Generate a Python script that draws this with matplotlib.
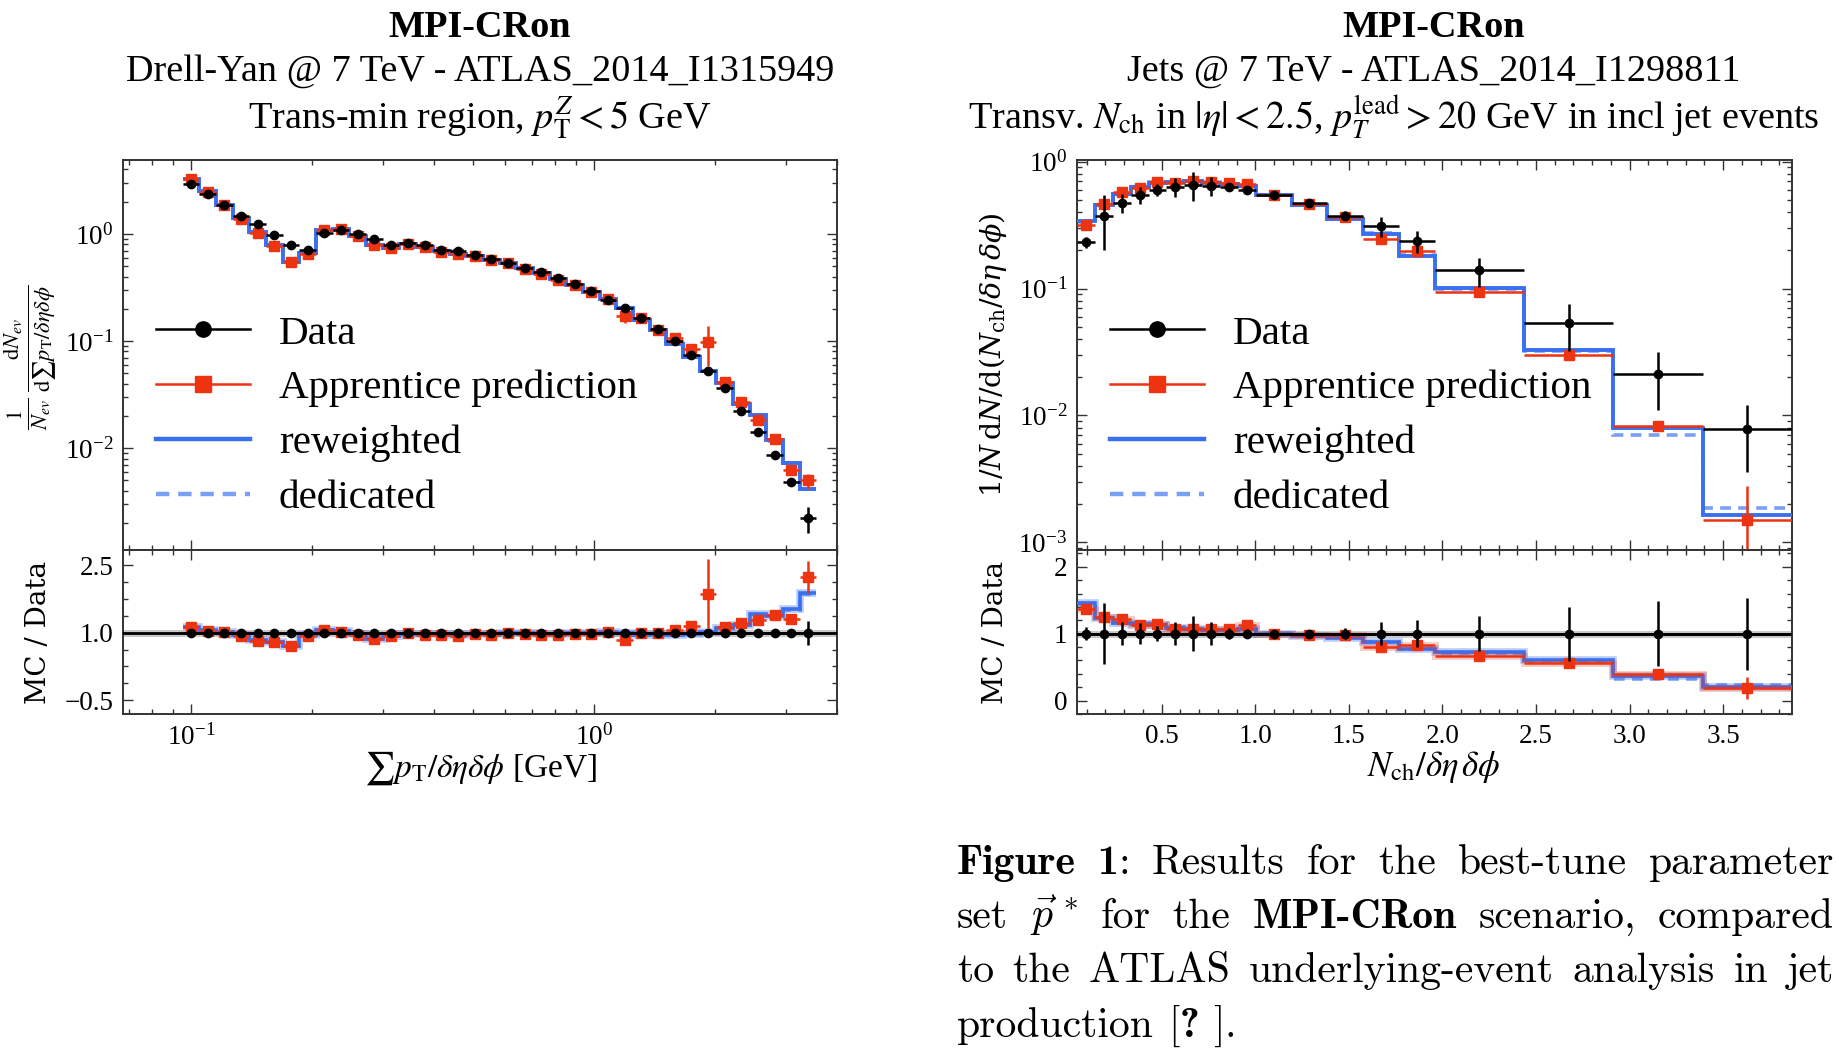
import numpy as np
import matplotlib
matplotlib.use("Agg")
import matplotlib.pyplot as plt
from matplotlib.ticker import (LogLocator, MultipleLocator, NullFormatter,
                               FixedLocator, FuncFormatter)
from matplotlib.lines import Line2D

W, H = 1836, 1049
plt.rcParams['font.family'] = ['Liberation Serif', 'DejaVu Serif']
plt.rcParams['mathtext.fontset'] = 'stix'
plt.rcParams['axes.unicode_minus'] = True

# ---------------- Drell-Yan (left) ----------------
dy_edges = [0.09535, 0.10488, 0.11537, 0.12691, 0.13960, 0.15356, 0.16891, 0.18580,
            0.20438, 0.22482, 0.24730, 0.27203, 0.29924, 0.32916, 0.36208, 0.39829,
            0.43811, 0.48193, 0.53012, 0.58313, 0.64144, 0.70559, 0.77615, 0.85376,
            0.93914, 1.03305, 1.13636, 1.24999, 1.37499, 1.51249, 1.66374, 1.83011,
            2.01312, 2.21444, 2.43588, 2.67947, 2.94742, 3.24216, 3.56637]
dy_data = [2.90, 2.38, 1.85, 1.47, 1.25, 0.973, 0.784, 0.705, 1.01, 1.08,
           1.00, 0.906, 0.796, 0.824, 0.784, 0.715, 0.694, 0.641, 0.589, 0.536,
           0.485, 0.441, 0.391, 0.339, 0.293, 0.244, 0.205, 0.165, 0.130, 0.100,
           0.0734, 0.0525, 0.0364, 0.0222, 0.0143, 0.00867, 0.00481, 0.00223]
dy_data_err = [0.03, 0.025, 0.02, 0.015, 0.012, 0.01, 0.008, 0.007, 0.01, 0.01,
               0.01, 0.009, 0.008, 0.008, 0.008, 0.007, 0.007, 0.006, 0.006, 0.005,
               0.005, 0.004, 0.004, 0.003, 0.003, 0.003, 0.002, 0.002, 0.0015, 0.0012,
               0.0009, 0.0007, 0.0005, 0.0003, 0.0002, 0.00015, 0.0003, 0.0006]
dy_mc = [3.24, 2.47, 1.88, 1.37, 1.03, 0.773, 0.548, 0.65, 1.08, 1.106,
         0.95, 0.784, 0.74, 0.81, 0.751, 0.68, 0.65, 0.619, 0.565, 0.535,
         0.475, 0.423, 0.375, 0.332, 0.287, 0.249, 0.172, 0.165, 0.128, 0.107,
         0.0844, 0.098, 0.0414, 0.0269, 0.0182, 0.0121, 0.00632, 0.00499]
dy_mc_err = [0.04, 0.03, 0.02, 0.015, 0.012, 0.01, 0.008, 0.008, 0.012, 0.012,
             0.01, 0.009, 0.008, 0.009, 0.008, 0.007, 0.007, 0.006, 0.006, 0.005,
             0.005, 0.004, 0.004, 0.003, 0.003, 0.003, 0.025, 0.002, 0.002, 0.002,
             0.0015, 0.04, 0.0008, 0.0005, 0.0004, 0.0003, 0.0002, 0.0008]
dy_rew = [3.28, 2.50, 1.88, 1.40, 1.05, 0.78, 0.55, 0.67, 1.08, 1.11,
          0.96, 0.78, 0.745, 0.80, 0.76, 0.69, 0.655, 0.62, 0.57, 0.535,
          0.48, 0.43, 0.38, 0.335, 0.29, 0.248, 0.203, 0.158, 0.126, 0.0945,
          0.0709, 0.0529, 0.0405, 0.026, 0.0202, 0.0118, 0.00731, 0.00418]
dy_ded = [3.27, 2.49, 1.88, 1.40, 1.05, 0.78, 0.55, 0.67, 1.08, 1.11,
          0.96, 0.78, 0.745, 0.80, 0.76, 0.69, 0.655, 0.62, 0.57, 0.535,
          0.48, 0.43, 0.38, 0.335, 0.29, 0.248, 0.203, 0.158, 0.126, 0.0945,
          0.0709, 0.0529, 0.0405, 0.026, 0.0200, 0.0117, 0.00725, 0.00415]

# ---------------- Jets (right) ----------------
jt_edges = [0.047746, 0.143239, 0.238732, 0.334225, 0.429718, 0.525211, 0.620704,
            0.716197, 0.811690, 0.907183, 1.002676, 1.193662, 1.384648, 1.575634,
            1.766620, 1.957606, 2.435070, 2.912535, 3.389999, 3.867463]
jt_data = [0.232, 0.371, 0.473, 0.547, 0.600, 0.632, 0.656, 0.648, 0.632, 0.595,
           0.547, 0.471, 0.376, 0.310, 0.237, 0.139, 0.0536, 0.0212, 0.00781]
jt_data_err = [0.023, 0.17, 0.08, 0.085, 0.066, 0.11, 0.17, 0.11, 0.05, 0.04,
               0.016, 0.014, 0.032, 0.053, 0.048, 0.036, 0.0216, 0.0102, 0.0042]
jt_mc = [0.318, 0.465, 0.574, 0.621, 0.689, 0.675, 0.699, 0.689, 0.675, 0.668,
         0.547, 0.465, 0.368, 0.246, 0.197, 0.0935, 0.0302, 0.00831, 0.00150]
jt_mc_err = [0.008, 0.01, 0.01, 0.01, 0.01, 0.01, 0.01, 0.01, 0.01, 0.01,
             0.008, 0.006, 0.005, 0.004, 0.003, 0.0015, 0.0006, 0.0003, 0.0013]
jt_rew = [0.340, 0.459, 0.551, 0.629, 0.681, 0.689, 0.700, 0.680, 0.668, 0.637,
          0.547, 0.456, 0.354, 0.270, 0.182, 0.1005, 0.0325, 0.0079, 0.00164]
jt_ded = [0.335, 0.457, 0.551, 0.633, 0.685, 0.695, 0.705, 0.685, 0.670, 0.640,
          0.550, 0.458, 0.356, 0.272, 0.184, 0.0985, 0.0320, 0.0070, 0.00185]

labels = ['Data', 'Apprentice prediction', 'reweighted', 'dedicated']

RED = '#ee3311'
BLUE = '#3a6ff0'
LBLUE = '#7aa0f5'
FRAME = '#333333'

fig = plt.figure(figsize=(W / 100, H / 100), dpi=100)


def fx(px):
    return px / W


def fy(py):
    return 1 - py / H


def add_axes(x0, x1, y0, y1, **kw):
    return fig.add_axes([fx(x0), fy(y1), (x1 - x0) / W, (y1 - y0) / H], **kw)


def style(ax):
    ax.tick_params(which='both', direction='in', top=True, right=True,
                   width=1.0, color=FRAME, labelsize=19.5, pad=7)
    ax.tick_params(which='major', length=7.5)
    ax.tick_params(which='minor', length=3.8)
    for s in ax.spines.values():
        s.set_linewidth(1.4)
        s.set_color(FRAME)


def draw_panel(ax, axr, edges, data, derr, mc, merr, rew, ded, logx):
    e = np.array(edges)
    d = np.array(data)
    de = np.array(derr)
    m = np.array(mc)
    me = np.array(merr)
    rw = np.array(rew)
    dd = np.array(ded)
    if logx:
        xc = np.sqrt(e[:-1] * e[1:])
    else:
        xc = 0.5 * (e[:-1] + e[1:])
    xerr = [xc - e[:-1], e[1:] - xc]
    # main
    ax.stairs(dd, e, color=LBLUE, lw=2.6, ls=(0, (3, 2)), zorder=2, baseline=None)
    ax.stairs(rw, e, color=BLUE, lw=2.8, zorder=3, baseline=None)
    ax.errorbar(xc, m, yerr=me, xerr=xerr, fmt='s', color=RED, ms=6.5,
                elinewidth=1.8, capsize=0, zorder=4)
    ax.errorbar(xc, d, yerr=de, xerr=xerr, fmt='o', color='black', ms=6,
                elinewidth=1.8, capsize=0, zorder=5)
    # ratio
    axr.axhline(1.0, color='#c8c8c8', lw=5, zorder=1)
    axr.stairs(dd / d, e, color=LBLUE, lw=2.6, ls=(0, (3, 2)), zorder=2, baseline=None)
    axr.stairs(rw / d, e, color=BLUE, lw=5.5, alpha=0.35, zorder=2, baseline=None)
    axr.stairs(rw / d, e, color=BLUE, lw=2.6, zorder=3, baseline=None)
    if not logx:
        axr.stairs(m / d, e, color=RED, lw=5, alpha=0.25, zorder=3, baseline=None)
    axr.errorbar(xc, m / d, yerr=me / d, xerr=xerr, fmt='s', color=RED, ms=6.5,
                 elinewidth=1.8, capsize=0, zorder=4)
    axr.axhline(1.0, color='black', lw=2.0, zorder=5)
    axr.errorbar(xc, np.ones_like(d), yerr=de / d, xerr=xerr, fmt='o',
                 color='black', ms=6, elinewidth=1.8, capsize=0, zorder=6)


# ---------- left ----------
axL = add_axes(123, 837, 160, 550)
axLr = add_axes(123, 837, 550, 714, sharex=axL)
draw_panel(axL, axLr, dy_edges, dy_data, dy_data_err, dy_mc, dy_mc_err,
           dy_rew, dy_ded, True)
for a in (axL, axLr):
    a.set_xscale('log')
    style(a)
axL.set_yscale('log')
axL.set_xlim(0.0678, 4.01)
axL.set_ylim(1.12e-3, 4.9)
axL.yaxis.set_major_locator(LogLocator(base=10, numticks=10))
axL.yaxis.set_minor_locator(LogLocator(base=10, subs=np.arange(2, 10), numticks=20))
axL.yaxis.set_minor_formatter(NullFormatter())
axL.tick_params(labelbottom=False)
axLr.xaxis.set_minor_formatter(NullFormatter())
axLr.set_ylim(-0.81, 2.84)
axLr.yaxis.set_major_locator(FixedLocator([-0.5, 1.0, 2.5]))
axLr.yaxis.set_minor_locator(FixedLocator([-0.125, 0.25, 0.625, 1.375, 1.75, 2.125]))
axLr.yaxis.set_major_formatter(FuncFormatter(lambda v, p: ('%.1f' % v).replace('-', '\u2212')))

# ---------- right ----------
axR = add_axes(1077, 1792, 160, 550)
axRr = add_axes(1077, 1792, 550, 714, sharex=axR)
draw_panel(axR, axRr, jt_edges, jt_data, jt_data_err, jt_mc, jt_mc_err,
           jt_rew, jt_ded, False)
for a in (axR, axRr):
    style(a)
axR.set_yscale('log')
axR.set_xlim(jt_edges[0], jt_edges[-1])
axR.set_ylim(8.7e-4, 1.03)
axR.yaxis.set_major_locator(LogLocator(base=10, numticks=10))
axR.yaxis.set_minor_locator(LogLocator(base=10, subs=np.arange(2, 10), numticks=20))
axR.yaxis.set_minor_formatter(NullFormatter())
axR.tick_params(labelbottom=False)
axRr.xaxis.set_major_locator(MultipleLocator(0.5))
axRr.xaxis.set_minor_locator(MultipleLocator(0.1))
axRr.xaxis.set_major_formatter(FuncFormatter(lambda v, p: '%.1f' % v))
axRr.set_ylim(-0.2, 2.25)
axRr.yaxis.set_major_locator(FixedLocator([0, 1, 2]))
axRr.yaxis.set_minor_locator(MultipleLocator(0.2))
axRr.yaxis.set_major_formatter(FuncFormatter(lambda v, p: '%d' % round(v)))

# ---------- legends ----------
handles = [
    Line2D([0], [0], color='black', lw=1.8, marker='o', ms=11),
    Line2D([0], [0], color=RED, lw=1.8, marker='s', ms=11),
    Line2D([0], [0], color=BLUE, lw=3.2),
    Line2D([0], [0], color=LBLUE, lw=3.2, ls=(0, (3, 2))),
]
for ax, xpx in ((axL, 156), (axR, 1110)):
    ax.legend(handles, labels, loc='center left',
              bbox_to_anchor=(fx(xpx), fy(416)), bbox_transform=fig.transFigure,
              frameon=False, fontsize=29.5, handlelength=2.3, handletextpad=0.7,
              labelspacing=0.42, borderpad=0, borderaxespad=0)

# ---------- titles ----------
TS = 27.5
fig.text(fx(480), fy(37), 'MPI-CRon', ha='center', va='baseline', fontsize=TS,
         fontweight='bold')
fig.text(fx(480), fy(81), 'Drell-Yan @ 7 TeV - ATLAS_2014_I1315949', ha='center',
         va='baseline', fontsize=TS)
fig.text(fx(480), fy(129), r'Trans-min region, $p_{\mathrm{T}}^{Z} < 5$ GeV',
         ha='center', va='baseline', fontsize=TS)
fig.text(fx(1434), fy(37), 'MPI-CRon', ha='center', va='baseline', fontsize=TS,
         fontweight='bold')
fig.text(fx(1434), fy(81), 'Jets @ 7 TeV - ATLAS_2014_I1298811', ha='center',
         va='baseline', fontsize=TS)
fig.text(fx(1394), fy(129),
         r'Transv. $N_{\mathrm{ch}}$ in $|\eta| < 2.5$, $p_{T}^{\mathrm{lead}} > 20$ GeV in incl jet events',
         ha='center', va='baseline', fontsize=TS)

# ---------- axis labels ----------
fig.text(fx(30), fy(357),
         r'$\frac{1}{N_{ev}}\,\frac{\mathrm{d}N_{ev}}{\mathrm{d}\sum p_{\mathrm{T}}/\delta\eta\delta\phi}$',
         rotation=90, ha='center', va='center', fontsize=23)
fig.text(fx(39), fy(632), 'MC / Data', rotation=90, ha='center', va='center',
         fontsize=20, family='DejaVu Serif')
fig.text(fx(993), fy(355),
         r'$1/N\,\mathrm{d}N/\mathrm{d}(N_{\mathrm{ch}}/\delta\eta\,\delta\phi)$',
         rotation=90, ha='center', va='center', fontsize=20.5,
         math_fontfamily='dejavuserif')
fig.text(fx(995), fy(632), 'MC / Data', rotation=90, ha='center', va='center',
         fontsize=20, family='DejaVu Serif')
fig.text(fx(480), fy(768), r'$\sum p_{\mathrm{T}}/\delta\eta\delta\phi$ [GeV]',
         ha='center', va='center', fontsize=24)
fig.text(fx(1434), fy(767), r'$N_{\mathrm{ch}}/\delta\eta\,\delta\phi$',
         ha='center', va='center', fontsize=25)

# ---------- caption (justified) ----------
CS = 30
cap_lines = [
    [('Figure', 'cmb10', False), ('1', 'cmb10', True), (':', 'cmr10', False),
     ('Results', 'cmr10', True), ('for', 'cmr10', True), ('the', 'cmr10', True),
     ('best-tune', 'cmr10', True), ('parameter', 'cmr10', True)],
    [('set', 'cmr10', False), (r'$\vec{p}^{\,*}$', 'math', True), ('for', 'cmr10', True),
     ('the', 'cmr10', True), ('MPI-CRon', 'cmb10', True), ('scenario,', 'cmr10', True),
     ('compared', 'cmr10', True)],
    [('to', 'cmr10', False), ('the', 'cmr10', True), ('ATLAS', 'cmr10', True),
     ('underlying-event', 'cmr10', True), ('analysis', 'cmr10', True),
     ('in', 'cmr10', True), ('jet', 'cmr10', True)],
    [('production', 'cmr10', False), ('[', 'cmr10', True), ('?', 'cmb10', False),
     (']', 'cmr10', True), ('.', 'cmr10', False)],
]
cap_base = [874, 928, 982, 1037]
cap_just = [True, True, True, False]
x0c, x1c = 957, 1834
renderer = fig.canvas.get_renderer()
space_px = 0.333 * CS * 100 / 72
for toks, ybase, just in zip(cap_lines, cap_base, cap_just):
    objs = []
    for s, fam, sp in toks:
        if fam == 'math':
            t = fig.text(0, 0, s, fontsize=CS, va='baseline', ha='left',
                         math_fontfamily='cm')
        else:
            t = fig.text(0, 0, s, fontsize=CS, va='baseline', ha='left', family=fam)
        objs.append((t, sp))
    widths = [t.get_window_extent(renderer).width for t, _ in objs]
    nsp = sum(1 for _, sp in objs if sp)
    gap = (x1c - x0c - sum(widths)) / nsp if just else space_px
    x = x0c
    for (t, sp), w in zip(objs, widths):
        if sp:
            x += gap
        t.set_position((fx(x), fy(ybase)))
        x += w

fig.savefig('out.png', dpi=100)
